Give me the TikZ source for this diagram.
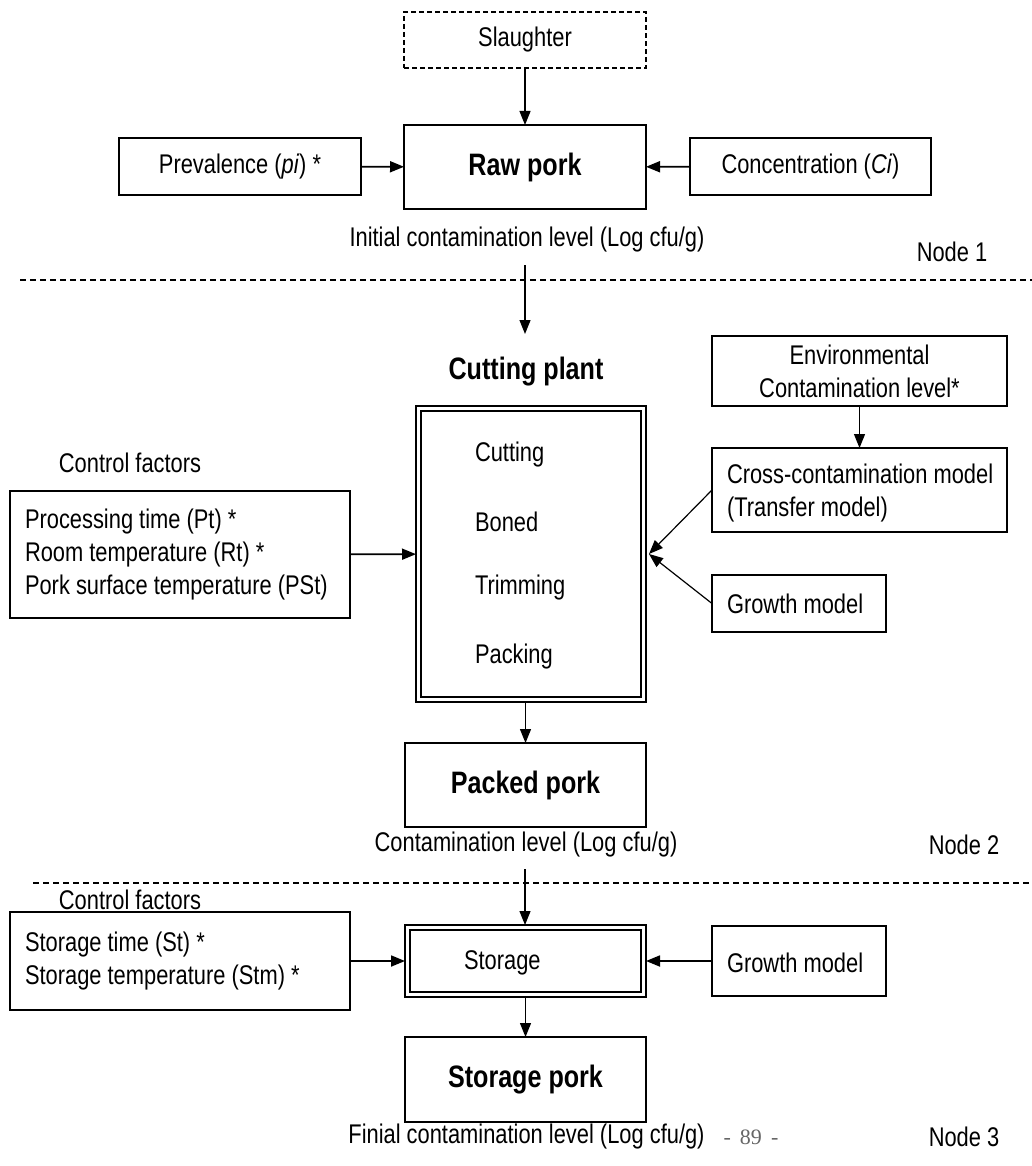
\documentclass[tikz,border=0pt]{standalone}
\usepackage{fontspec}
\setmainfont{Liberation Sans}[FakeStretch=0.81]
\newfontfamily\pgnfont{Liberation Serif}
\usetikzlibrary{arrows.meta}
\begin{document}
\begin{tikzpicture}[x=1pt,y=-1pt,
  every node/.style={font=\fontsize{27}{33}\selectfont, inner sep=0pt, outer sep=0pt},
  box/.style={draw, line width=1.7pt, minimum width=#1},
  bf/.style={font=\fontsize{31}{33}\selectfont\bfseries},
  arr/.style={line width=1.8pt, -{Triangle[length=14pt,width=11pt]}},
  thinarr/.style={line width=1.2pt, -{Triangle[length=14pt,width=11pt]}},
  sep/.style={line width=1.6pt, dash pattern=on 6pt off 4pt},
  lbl/.style={anchor=west}
]
\useasboundingbox (0,0) rectangle (1032,1166);
% ---------- Node 1 ----------
\node[box=242, minimum height=56, line width=1.3pt, dash pattern=on 5pt off 3pt] (sl) at (525,40) {Slaughter};
\node[box=242, minimum height=84, bf] (raw) at (525,167) {Raw pork};
\node[box=242, minimum height=57] (prev) at (240,166.5) {Prevalence (\textit{pi}) *};
\node[box=241, minimum height=57] (conc) at (810.5,166.5) {Concentration (\textit{Ci})};
\node (init) at (527,240) {Initial contamination level (Log cfu/g)};
\node (nd1) at (952,252) {Node 1};
\coordinate (l1a) at (20,280);
\coordinate (l1b) at (1032,280);
\draw[sep] (l1a) -- (l1b);
\draw[thinarr] (sl) -- (raw);
\draw[arr] (prev) -- (raw);
\draw[arr] (conc) -- (raw);
% ---------- Node 2 ----------
\coordinate (a1s) at (525,265);
\node[bf] (title) at (526,372) {Cutting plant};
\coordinate (a1e) at (525,334);
\draw[thinarr] (a1s) -- (a1e);
\node[draw, line width=2.2pt, minimum width=230, minimum height=296] (cut) at (531,554) {};
\draw[line width=1.2pt] ([shift={(5,5)}]cut.north west) rectangle ([shift={(-5,-5)}]cut.south east);
\node[lbl] (c1) at (475,455) {Cutting};
\node[lbl] (c2) at (475,522) {Boned};
\node[lbl] (c3) at (475,588) {Trimming};
\node[lbl] (c4) at (475,657) {Packing};
\node[box=295, minimum height=70, align=center] (env) at (859.5,371) {Environmental\\Contamination level*};
\node[box=295, minimum height=84] (cross) at (859.5,490) {};
\node[align=left, anchor=west] (crosst) at (727,493.5) {Cross-contamination model\\(Transfer model)};
\node[box=174, minimum height=57] (gr1) at (799,603.5) {};
\node[lbl] (gr1t) at (727,604) {Growth model};
\draw[thinarr] (env) -- (cross);
\draw[thinarr] (cross.west) -- ([xshift=3]cut.east);
\draw[thinarr] (gr1.west) -- ([xshift=3]cut.east);
\node (cf1) at (130,463) {Control factors};
\node[box=340, minimum height=127] (ctl1) at (180,554.5) {};
\node[align=left, anchor=west] (ctl1t) at (25,555) {Processing time (Pt) *\\Room temperature (Rt) *\\Pork surface temperature (PSt)};
\draw[arr] (ctl1) -- (cut);
\node[box=241, minimum height=84, bf] (packed) at (525.5,785) {Packed pork};
\draw[thinarr] (cut.south -| packed.north) -- (packed.north);
\node (cont) at (526,845) {Contamination level (Log cfu/g)};
\node (nd2) at (964,845) {Node 2};
\coordinate (l2a) at (33,883);
\coordinate (l2b) at (1032,883);
\draw[sep] (l2a) -- (l2b);
% ---------- Node 3 ----------
\coordinate (a2s) at (525,869);
\node[draw, line width=2.2pt, minimum width=241, minimum height=72] (stor) at (525.5,961) {};
\draw[line width=1.5pt] ([shift={(5,5)}]stor.north west) rectangle ([shift={(-5,-5)}]stor.south east);
\node[lbl] (stt) at (464,963) {Storage};
\draw[thinarr] (a2s) -- (a2s |- stor.north);
\node (cf2) at (130,900) {Control factors};
\node[box=340, minimum height=98] (ctl2) at (180,961) {};
\node[align=left, anchor=west] (ctl2t) at (25,961.5) {Storage time (St) *\\Storage temperature (Stm) *};
\node[box=174, minimum height=70] (gr2) at (799,961) {};
\node[lbl] (gr2t) at (727,963) {Growth model};
\draw[arr] (ctl2) -- (stor);
\draw[arr] (gr2) -- (stor);
\node[box=241, minimum height=85, bf] (spork) at (525.5,1079.5) {Storage pork};
\draw[thinarr] (stor.south -| spork.north) -- (spork.north);
\node (fin) at (526.5,1137) {Finial contamination level (Log cfu/g)};
\node[font=\fontsize{22}{26}\selectfont\pgnfont, text=black!60] (pg) at (751,1137) {-\, 89 \,-};
\node (nd3) at (964,1137) {Node 3};
\end{tikzpicture}
\end{document}
